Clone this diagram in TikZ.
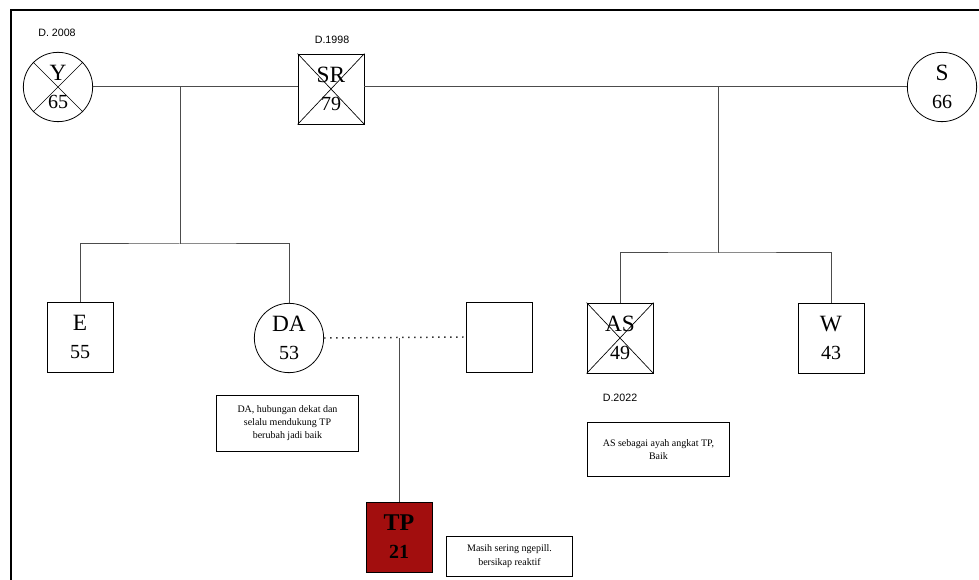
\documentclass[tikz,border=0pt]{standalone}
\usepackage{fontspec}
\setmainfont{Liberation Serif}
\setsansfont{Liberation Sans}
\newcommand{\agetxt}[1]{{\fontsize{15}{21}\selectfont #1}}
\begin{document}
\begin{tikzpicture}
[x=0.75pt,y=-0.75pt,%
 linestyle/.style={line width=0.75pt,draw=black!70},%
 dotstyle/.style={line width=1.1pt,dash pattern=on 1.1pt off 3.4pt,draw=black!80},%
 framestyle/.style={line width=1.5pt},%
 crossstyle/.style={line width=0.5pt},%
 malestyle/.style={draw,line width=0.6pt,rectangle,minimum width=49.5pt,minimum height=52.5pt,inner sep=0pt,align=center,font=\fontsize{17.5}{21}\selectfont},%
 femalestyle/.style={draw,line width=0.6pt,circle,minimum size=52pt,inner sep=0pt,align=center,font=\fontsize{17.5}{21}\selectfont},%
 datestyle/.style={font=\sffamily\fontsize{8}{9}\selectfont},%
 notestyle/.style={draw,line width=0.6pt,align=center,inner sep=0pt,font=\fontsize{7.5}{10}\selectfont}]
\useasboundingbox (0,0) rectangle (979,580);
%% frame
\draw[framestyle] (11,580) -- (11,10) -- (979,10);
%% first generation
\node[femalestyle] (Y) at (58,87) {Y\\\agetxt{65}};
\node[malestyle] (SR) at (331,89) {SR\\\agetxt{79}};
\node[femalestyle] (S) at (942,87) {S\\\agetxt{66}};
\node[datestyle] (Ydate) at (57,33) {D. 2008};
\node[datestyle] (SRdate) at (332,40) {D.1998};
\draw[crossstyle] (Y.north west) -- (Y.south east) (Y.north east) -- (Y.south west);
\draw[crossstyle] (SR.north west) -- (SR.south east) (SR.north east) -- (SR.south west);
%% second generation
\node[malestyle] (E) at (80,337) {E\\\agetxt{55}};
\node[femalestyle] (DA) at (289,338) {DA\\\agetxt{53}};
\node[malestyle] (partner) at (499,337) {};
\node[malestyle] (AS) at (620,338) {AS\\\agetxt{49}};
\node[malestyle] (W) at (831,338) {W\\\agetxt{43}};
\node[datestyle] (ASdate) at (620,398) {D.2022};
\draw[crossstyle] (AS.north west) -- (AS.south east) (AS.north east) -- (AS.south west);
%% third generation
\node[malestyle,fill={rgb,255:red,162;green,14;blue,14},font=\bfseries\fontsize{18}{21}\selectfont] (TP) at (399,537) {TP\\\agetxt{21}};
%% notes
\node[notestyle,minimum width=107pt,minimum height=42pt] (DAnote) at (287.5,423) {DA, hubungan dekat dan\\selalu mendukung TP\\berubah jadi baik};
\node[notestyle,minimum width=107pt,minimum height=40pt] (ASnote) at (658.5,449.5) {AS sebagai ayah angkat TP,\\Baik};
\node[notestyle,minimum width=94pt,minimum height=30pt] (TPnote) at (509.5,556) {Masih sering ngepill.\\bersikap reaktif};
%% relations
\draw[linestyle] (Y.east) -- (Y.east -| SR.west);
\draw[linestyle] (SR.east |- S.west) -- (S.west);
\coordinate (leftdrop) at (180,87);
\coordinate (leftbar) at (180,244);
\coordinate (rightdrop) at (718,87);
\coordinate (rightbar) at (718,253);
\draw[linestyle] (leftdrop) -- (leftbar);
\draw[linestyle] (E.north) |- (leftbar) -| (DA.north);
\draw[linestyle] (rightdrop) -- (rightbar);
\draw[linestyle] (AS.north) |- (rightbar) -| (W.north);
\draw[dotstyle] (DA.east) -- (partner.west);
\draw[linestyle] (TP.north) -- (TP.north |- DA.east);
\end{tikzpicture}
\end{document}
